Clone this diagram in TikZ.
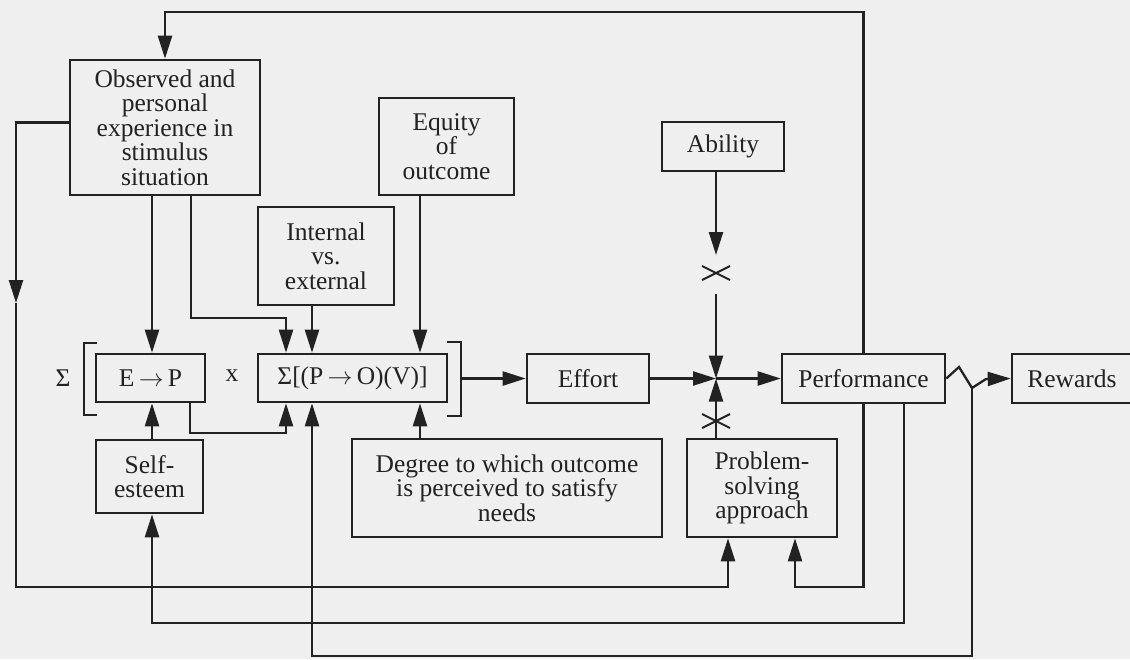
\documentclass[tikz,border=0pt]{standalone}
\usepackage{fontspec}
\setmainfont{Liberation Serif}
\usetikzlibrary{arrows.meta}
\definecolor{ink}{HTML}{222222}
\definecolor{paper}{HTML}{EFEFEF}
\begin{document}
\begin{tikzpicture}[x=1pt,y=-1pt,
  line width=2.3pt, draw=ink,
  box/.style={draw=ink, fill=paper, line width=2.6pt, inner sep=0pt, align=center,
    font=\fontsize{25.5}{24.5}\selectfont, text=ink},
  lbl/.style={inner sep=0pt, font=\fontsize{25.5}{24.5}\selectfont, text=ink},
  arr/.style={-{Triangle[length=23pt,width=14pt]}},
  xmark/.style={line width=2pt}]
\useasboundingbox (0,0) rectangle (1130,659);
\fill[paper] (0,0) rectangle (1130,659);

% boxes
\node[box, minimum width=190pt, minimum height=135pt] (obs) at (165,127.5)
  {Observed and\\ personal\\ experience in\\ stimulus\\ situation};
\node[box, minimum width=135pt, minimum height=97pt] (equity) at (446.5,146.5)
  {Equity\\ of\\ outcome};
\node[box, minimum width=136pt, minimum height=98pt] (intext) at (326,256)
  {Internal\\ vs.\\ external};
\node[box, minimum width=109pt, minimum height=48pt] (ep) at (150.5,378)
  {E\,${\rightarrow}$\,P};
\node[box, minimum width=189pt, minimum height=48pt] (sum) at (352.5,378)
  {Σ[(P\,${\rightarrow}$\,O)(V)]};
\node[box, minimum width=107pt, minimum height=73pt] (self) at (149.5,476.5)
  {Self-\\ esteem};
\node[box, minimum width=310pt, minimum height=98pt] (degree) at (507,488)
  {Degree to which outcome\\ is perceived to satisfy\\ needs};
\node[box, minimum width=122pt, minimum height=49pt] (effort) at (588,378.5) {Effort};
\node[box, minimum width=122pt, minimum height=49pt] (ability) at (723,146.5) {Ability};
\node[box, minimum width=150pt, minimum height=98pt] (problem) at (762,488)
  {Problem-\\ solving\\ approach};
\node[box, minimum width=163pt, minimum height=49pt] (perf) at (863.5,378.5) {Performance};
\node[box, minimum width=120pt, minimum height=49pt] (rewards) at (1072,378.5) {Rewards};

\node[lbl] (sigma) at (63,378) {Σ};
\node[lbl] (times) at (232,376) {x};

% brackets
\draw[line width=2.6pt] (97,343) -- (84,343) -- (84,415) -- (97,415);
\draw[line width=2.6pt] (447,342) -- (461,342) -- (461,416) -- (447,416);
\coordinate (br) at (461,378.5);

% helper coordinates
\coordinate (o1) at ([xshift=-13pt]obs.south);
\coordinate (o2) at ([xshift=26pt]obs.south);
\coordinate (w1) at ([yshift=5pt]obs.west);
\coordinate (top) at (500,12);
\coordinate (lx) at (16,0);
\coordinate (lmid) at (16,303);
\coordinate (r587) at (0,587);
\coordinate (r623) at (0,623);
\coordinate (r318) at (0,318);
\coordinate (r433) at (0,433);
\coordinate (s1) at ([xshift=-66.5pt]sum.north);
\coordinate (s2) at ([xshift=-40.5pt]sum.north);
\coordinate (s3) at ([xshift=67.5pt]sum.north);
\coordinate (eps) at ([xshift=39.5pt]ep.south);
\coordinate (pf2) at ([xshift=40.5pt]perf.south);
\coordinate (ps1) at ([xshift=-34pt]problem.south);
\coordinate (ps2) at ([xshift=33pt]problem.south);
\coordinate (J) at (716,378.5);
\coordinate (atip) at (716,255);
\coordinate (abeg) at (716,294);
\coordinate (xa) at (716,273);
\coordinate (xb) at (716,421);
\coordinate (z1) at (959,367);
\coordinate (z2) at (972,388);
\coordinate (z3) at (986,379);
\coordinate (bot) at (312,656);

% top feedback loop
\draw[arr] (perf.north) |- (top) -| (obs.north);
% left loop to problem-solving
\draw[arr] (w1) -- (w1 -| lx) -- (lmid);
\draw[arr] (lmid) -- (lmid |- r587) -- (ps1 |- r587) -- (ps1);
% observed to E->P and Sum
\draw[arr] (o1) -- (o1 |- ep.north);
\draw[arr] (o2) -- (o2 |- r318) -- (s1 |- r318) -- (s1);
\draw[arr] (s2 |- intext.south) -- (s2);
\draw[arr] (s3 |- equity.south) -- (s3);
% below sum
\draw[arr] (eps) -- (eps |- r433) -- (s1 |- r433) -- (s1 |- sum.south);
\draw[arr] (o1 |- self.north) -- (o1 |- ep.south);
\draw[arr] (s3 |- degree.north) -- (s3 |- sum.south);
% performance feedback loops
\draw[arr] (pf2) -- (pf2 |- r623) -- (o1 |- r623) -- (o1 |- self.south);
\draw[arr] (perf.south) -- (perf.south |- r587) -- (ps2 |- r587) -- (ps2);
% main chain
\draw[arr] (br) -- (effort.west);
\draw[arr] (effort.east) -- (J);
\draw[arr] (J) -- (perf.west);
% ability
\draw[arr] (J |- ability.south) -- (atip);
\draw[xmark] ([xshift=-14pt,yshift=7pt]xa) -- ([xshift=14pt,yshift=-7pt]xa);
\draw[xmark] ([xshift=-14pt,yshift=-7pt]xa) -- ([xshift=14pt,yshift=7pt]xa);
\draw[arr] (abeg) -- (J);
% problem-solving
\draw[arr] (J |- problem.north) -- (J);
\draw[xmark] ([xshift=-14pt,yshift=7pt]xb) -- ([xshift=14pt,yshift=-7pt]xb);
\draw[xmark] ([xshift=-14pt,yshift=-7pt]xb) -- ([xshift=14pt,yshift=7pt]xb);
% rewards with hop
\draw[arr] (perf.east) -- (z1) -- (z2) -- (z3) -- (rewards.west);
\draw[arr] (z2) -- (z2 |- bot) -- (bot) -- (s2 |- sum.south);
\end{tikzpicture}
\end{document}
